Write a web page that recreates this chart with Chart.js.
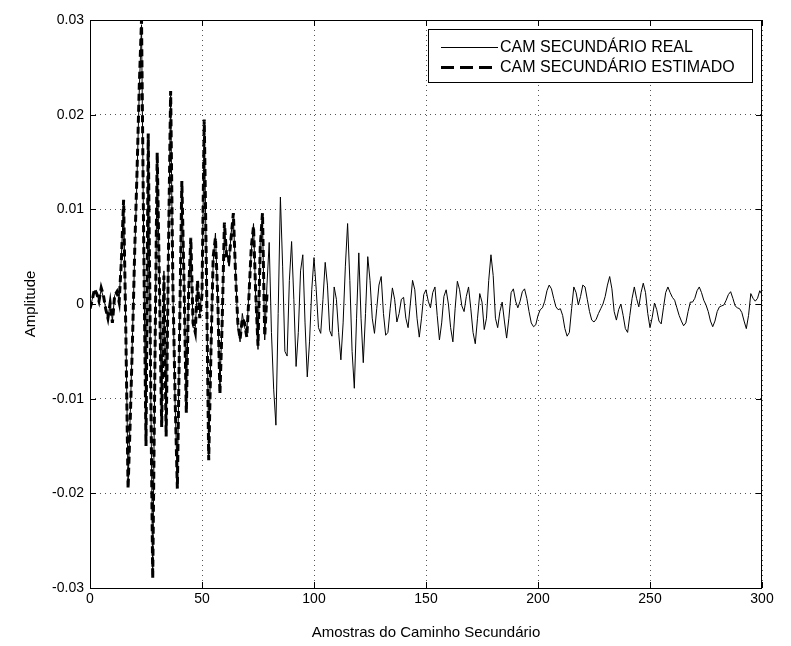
<!DOCTYPE html>
<html>
<head>
<meta charset="utf-8">
<script src="https://cdn.jsdelivr.net/npm/chart.js@4/dist/chart.umd.min.js"></script>
<style>
  html, body { margin: 0; padding: 0; background: #fff; }
  #wrap { position: relative; width: 791px; height: 646px; }
</style>
</head>
<body>
<div id="wrap"><canvas id="chart-1" width="791" height="646"></canvas></div>
<script>
// values in units of 0.001
const realMilli = [
  -0.6, 0.5, 1.4, 1.0, 0.4, 1.5, 0.7, -0.4, -1.6, 0.2,
  -1.8, 0.9, 1.4, 0.4, 5.0, 10.6, -2.5, -19.0, -11.5, -3.0,
  5.5, 13.5, 22.5, 29.5, 5.5, -14.5, 17.5, -6.5, -28.5, -5.5,
  15.5, 2.5, -12.5, 3.5, -13.5, 5.5, 22.0, 1.5, -10.5, -19.0,
  -2.5, 12.5, 2.5, -11.0, 1.5, 6.5, -2.5, -2.5, 2.0, -1.0,
  1.5, 19.0, 3.5, -16.0, -4.5, 4.5, 7.5, 0.5, -9.0, -1.5,
  8.0, 5.5, 4.0, 7.5, 9.0, 3.5, -2.5, -4.0, -1.0, -2.5,
  -3.0, 1.5, 5.5, 8.5, 0.5, -4.8, 6.5, 9.0, -3.8, 2.0,
  6.5, -3.0, -9.0, -12.8, -1.0, 11.3, 4.0, -5.0, -5.5, 2.5,
  6.6, 0.5, -6.6, -3.0, 3.5, 5.2, -2.0, -7.7, -4.0, 1.5,
  4.9, 1.5, -2.5, -3.1, 0.5, 4.4, 2.0, -2.8, -3.4, 1.8,
  0.5, -3.0, -5.9, -2.0, 4.0, 8.5, 2.5, -5.0, -8.9, -1.5,
  5.4, -1.5, -6.2, -1.0, 5.0, 2.5, -1.5, -3.1, -0.5, 2.0,
  2.9, -1.0, -3.3, -3.0, -0.5, 1.7, 0.5, -1.9, -1.0, 0.5,
  0.7, -1.5, -2.5, 0.0, 2.5, 1.5, -1.5, -3.5, -1.5, 1.0,
  1.5, 0.3, -0.4, 1.2, 1.8, -1.2, -3.8, -2.0, 0.8, 1.5,
  0.0, -2.5, -4.0, -0.5, 2.4, 1.5, -0.2, -0.8, 0.8, 1.8,
  -0.5, -3.0, -4.2, -1.5, 1.1, 0.2, -2.7, -1.5, 2.5, 5.2,
  3.0, -1.5, -2.5, -0.8, 0.2, -1.8, -3.6, -1.5, 1.2, 1.6,
  0.3, -0.4, 0.3, 1.3, 1.6, 0.6, -0.8, -2.0, -2.4, -2.2,
  -1.2, -0.6, -0.4, 0.3, 1.4, 2.0, 1.6, 0.6, -0.3, -0.6,
  -0.5, -1.2, -2.6, -3.4, -3.0, -0.5, 1.8, 1.2, -0.1, 0.8,
  2.0, 1.8, 0.5, -0.8, -1.7, -1.9, -1.6, -1.0, -0.5, 0.0,
  0.8, 2.0, 2.9, 1.6, -0.8, -1.7, -0.6, 0.0, -1.2, -2.6,
  -3.0, -1.2, 0.6, 1.8, 0.6, -0.3, 1.2, 2.2, 1.2, -1.0,
  -2.5, -1.4, 0.1, -0.6, -1.8, -2.1, -0.4, 1.2, 1.8, 1.2,
  0.7, 0.4, -0.4, -1.2, -1.8, -2.3, -2.0, -0.8, 0.2, 0.2,
  0.6, 1.4, 1.8, 1.2, 0.4, -0.1, -0.8, -1.8, -2.4, -1.8,
  -0.8, -0.3, -0.2, -0.1, 0.4, 1.0, 1.3, 0.6, -0.2, -0.4,
  -0.5, -0.9, -1.8, -2.6, -1.2, 1.1, 0.6, 0.3, 0.6, 1.4,
  1.0
];

const estMilli = [
  -0.5, 0.4, 1.6, 1.1, 0.3, 1.7, 0.9, -0.5, -1.5, 0.1,
  -2.0, 0.9, 1.3, 0.2, 4.5, 11.0, -3.0, -19.5, -12.0, -3.5,
  6.0, 14.0, 23.0, 30.0, 6.0, -15.0, 18.0, -6.0, -29.0, -6.0,
  16.0, 2.0, -13.0, 3.0, -14.0, 5.0, 22.5, 2.0, -10.0, -19.5,
  -3.0, 13.0, 2.0, -11.5, 1.0, 7.0, -2.0, -3.0, 2.5, -1.5,
  1.0, 19.5, 3.0, -16.5, -5.0, 5.0, 7.0, 1.0, -9.5, -2.0,
  8.6, 5.0, 4.5, 7.0, 9.6, 3.0, -2.0, -3.7, -1.5, -2.0,
  -3.5, 1.0, 6.0, 8.2, 1.0, -4.4, 6.0, 9.6, -3.4, 1.0
];

const seriesNames = ["CAM SECUNDÁRIO REAL", "CAM SECUNDÁRIO ESTIMADO"];
const xTicks = [0, 50, 100, 150, 200, 250, 300];
const yTicks = [-0.03, -0.02, -0.01, 0, 0.01, 0.02, 0.03];

const toPoints = arr => arr.map((v, i) => ({ x: i, y: v / 1000 }));

// box, inward ticks and legend like the matlab figure
const matlabFrame = {
    id: "matlabFrame",
    afterDraw(chart) {
        const { ctx, chartArea: a, scales } = chart;
        ctx.save();
        ctx.strokeStyle = "#000";
        ctx.lineWidth = 1;
        ctx.strokeRect(a.left + 0.5, a.top + 0.5, a.right - a.left - 1, a.bottom - a.top);
        ctx.beginPath();
        xTicks.forEach(t => {
            const px = Math.round(scales.x.getPixelForValue(t)) + 0.5;
            ctx.moveTo(px, a.bottom); ctx.lineTo(px, a.bottom - 6);
            ctx.moveTo(px, a.top); ctx.lineTo(px, a.top + 6);
        });
        yTicks.forEach(t => {
            const py = Math.round(scales.y.getPixelForValue(t)) + 0.5;
            ctx.moveTo(a.left, py); ctx.lineTo(a.left + 6, py);
            ctx.moveTo(a.right, py); ctx.lineTo(a.right - 6, py);
        });
        ctx.stroke();

        // legend
        const L = 428, T = 29, R = 752, B = 82;
        ctx.fillStyle = "#fff";
        ctx.fillRect(L, T, R - L, B - T);
        ctx.strokeRect(L + 0.5, T + 0.5, R - L, B - T);
        const rows = [47, 67];
        const legendDash = [[], [13, 6]];
        chart.data.datasets.forEach((ds, i) => {
            ctx.beginPath();
            ctx.lineWidth = ds.borderWidth;
            ctx.setLineDash(legendDash[i]);
            ctx.moveTo(441, rows[i] + 0.5);
            ctx.lineTo(498, rows[i] + 0.5);
            ctx.stroke();
            ctx.setLineDash([]);
            ctx.fillStyle = "#000";
            ctx.font = "16px 'Liberation Sans', Arial, sans-serif";
            ctx.textBaseline = "middle";
            ctx.fillText(ds.label, 500, rows[i] + 1);
        });
        ctx.restore();
    }
};

const ctx1 = document.getElementById("chart-1").getContext("2d");
const myChart = new Chart(ctx1, {
    type: "line",
    data: {
        datasets: [
            {
                label: seriesNames[0],
                data: toPoints(realMilli),
                borderColor: "#000",
                borderWidth: 1,
                pointRadius: 0,
                tension: 0,
            },
            {
                label: seriesNames[1],
                data: toPoints(estMilli),
                borderColor: "#000",
                borderWidth: 3,
                borderDash: [7, 4],
                pointRadius: 0,
                tension: 0,
            },
        ],
    },
    options: {
        responsive: false,
        animation: false,
        layout: { padding: { top: 20, right: 29, left: 0, bottom: 0 } },
        plugins: { legend: { display: false }, tooltip: { enabled: false } },
        scales: {
            x: {
                type: "linear",
                min: 0,
                max: 300,
                afterFit: s => { s.height = 58; },
                afterBuildTicks: s => { s.ticks = xTicks.map(v => ({ value: v })); },
                grid: { color: "#555", drawTicks: false },
                border: { display: false, dash: [1, 4] },
                ticks: { padding: 3, color: "#000", font: { family: "'Liberation Sans', Arial", size: 14 } },
                title: {
                    display: true,
                    text: "Amostras do Caminho Secundário",
                    color: "#000",
                    font: { family: "'Liberation Sans', Arial", size: 15 },
                    padding: { top: 0, bottom: 4 },
                },
            },
            y: {
                type: "linear",
                min: -0.03,
                max: 0.03,
                afterFit: s => { s.width = 90; },
                afterBuildTicks: s => { s.ticks = yTicks.map(v => ({ value: v })); },
                grid: { color: "#555", drawTicks: false },
                border: { display: false, dash: [1, 4] },
                ticks: {
                    padding: 6,
                    color: "#000",
                    font: { family: "'Liberation Sans', Arial", size: 14 },
                    callback: v => Math.abs(v) < 1e-9 ? "0" : v.toFixed(2),
                },
                title: {
                    display: true,
                    text: "Amplitude",
                    color: "#000",
                    font: { family: "'Liberation Sans', Arial", size: 15 },
                    padding: { top: 22, bottom: 0 },
                },
            },
        },
    },
    plugins: [matlabFrame],
});
</script>
</body>
</html>
